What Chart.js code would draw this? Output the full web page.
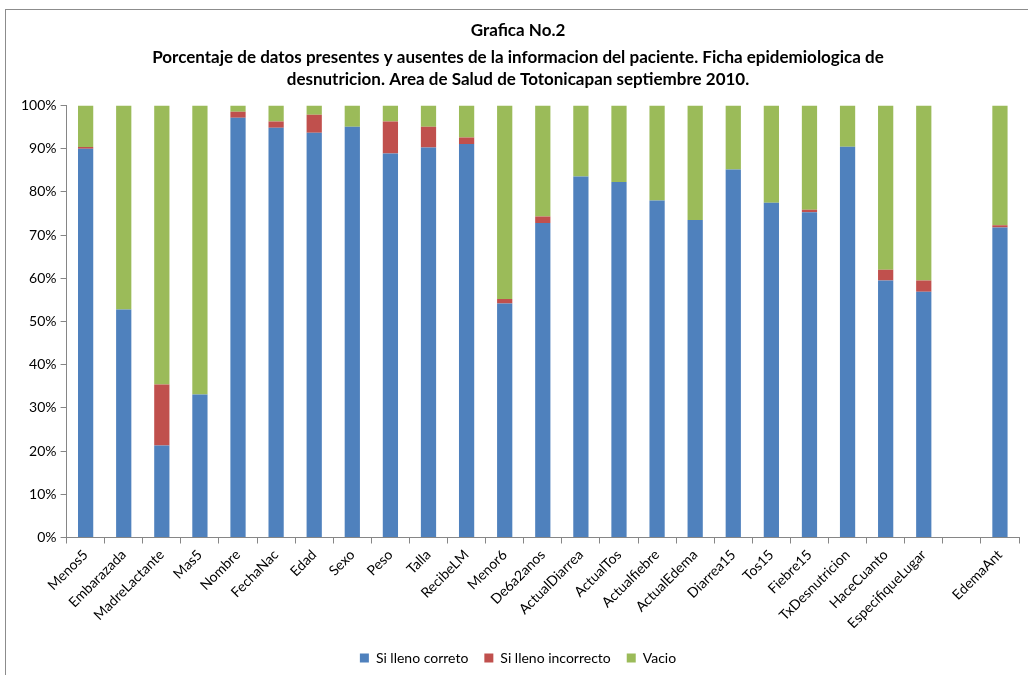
<!DOCTYPE html>
<html>
<head>
<meta charset="utf-8">
<script src="https://cdn.jsdelivr.net/npm/chart.js@4"></script>
<style>
  html, body { margin: 0; padding: 0; background: #fff; }
  #marco {
    position: absolute; left: 5px; top: 9px; width: 1100px; height: 700px;
    border-left: 1px solid #8c8c8c; border-top: 1px solid #8c8c8c;
  }
  #wrap { position: absolute; left: 0; top: 0; width: 1028px; height: 675px; }
</style>
</head>
<body>
<div id="marco"></div>
<div id="wrap"><canvas id="grafica"></canvas></div>
<script>
// Categorias (la penultima va vacia, como en el original)
const categorias = ['Menos5', 'Embarazada', 'MadreLactante', 'Mas5', 'Nombre', 'FechaNac', 'Edad', 'Sexo',
  'Peso', 'Talla', 'RecibeLM', 'Menor6', 'De6a2anos', 'ActualDiarrea', 'ActualTos', 'Actualfiebre',
  'ActualEdema', 'Diarrea15', 'Tos15', 'Fiebre15', 'TxDesnutricion', 'HaceCuanto', 'EspecifiqueLugar',
  '', 'EdemaAnt'];

// Porcentajes
const llenoCorrecto = [90.0, 52.8, 21.3, 33.1, 97.2, 94.9, 93.7, 95.1, 88.9, 90.3, 91.1, 54.2, 72.8,
  83.6, 82.3, 78.0, 73.5, 85.2, 77.5, 75.3, 90.5, 59.5, 56.9, null, 71.8];
const llenoIncorrecto = [0.4, 0, 14.1, 0, 1.4, 1.4, 4.2, 0, 7.4, 4.8, 1.5, 1.0, 1.5,
  0, 0, 0, 0, 0, 0, 0.6, 0, 2.5, 2.6, null, 0.5];
const vacio = [9.6, 47.2, 64.6, 66.9, 1.4, 3.7, 2.1, 4.9, 3.7, 4.9, 7.4, 44.8, 25.7,
  16.4, 17.7, 22.0, 26.5, 14.8, 22.5, 24.1, 9.5, 38.0, 40.5, null, 27.7];

const ticksY = [0, 10, 20, 30, 40, 50, 60, 70, 80, 90, 100];

const fuente = 'Lato, "Open Sans", sans-serif';
const gris = '#868686';

const ctx = document.getElementById('grafica').getContext('2d');
new Chart(ctx, {
  type: 'bar',
  data: {
    labels: categorias,
    datasets: [
      { label: 'Si lleno correto', data: llenoCorrecto, backgroundColor: '#4f81bd' },
      { label: 'Si lleno incorrecto', data: llenoIncorrecto, backgroundColor: '#c0504d' },
      { label: 'Vacio', data: vacio, backgroundColor: '#9bbb59' }
    ]
  },
  options: {
    responsive: true,
    maintainAspectRatio: false,
    animation: false,
    categoryPercentage: 1,
    barPercentage: 0.4,
    layout: { padding: { top: 16, left: 17, right: 9, bottom: 0 } },
    plugins: {
      title: {
        display: true,
        text: 'Grafica No.2',
        color: '#000',
        font: { family: fuente, size: 17, weight: 'bold' },
        padding: { top: 4, bottom: 6 }
      },
      subtitle: {
        display: true,
        text: ['Porcentaje de datos presentes y ausentes de la informacion del paciente. Ficha epidemiologica de',
               'desnutricion. Area de Salud de Totonicapan septiembre 2010.'],
        color: '#000',
        font: { family: fuente, size: 17, weight: 'bold', lineHeight: 1.3 },
        padding: { top: 0, bottom: 15 }
      },
      legend: {
        position: 'bottom',
        labels: {
          color: '#000',
          font: { family: fuente, size: 14 },
          boxWidth: 9, boxHeight: 9,
          padding: 16
        }
      },
      tooltip: { enabled: false }
    },
    scales: {
      x: {
        stacked: true,
        grid: { drawOnChartArea: false, color: gris, tickLength: 6, offset: true },
        border: { color: gris },
        ticks: {
          color: '#000',
          font: { family: fuente, size: 14 },
          minRotation: 45, maxRotation: 45,
          autoSkip: false
        }
      },
      y: {
        stacked: true,
        min: 0, max: 100,
        afterBuildTicks: (eje) => { eje.ticks = ticksY.map(v => ({ value: v })); },
        grid: { drawOnChartArea: false, color: gris, tickLength: 6 },
        border: { color: gris },
        ticks: {
          color: '#000',
          font: { family: fuente, size: 14 },
          padding: 4,
          callback: (v) => v + '%'
        }
      }
    }
  }
});
</script>
</body>
</html>
